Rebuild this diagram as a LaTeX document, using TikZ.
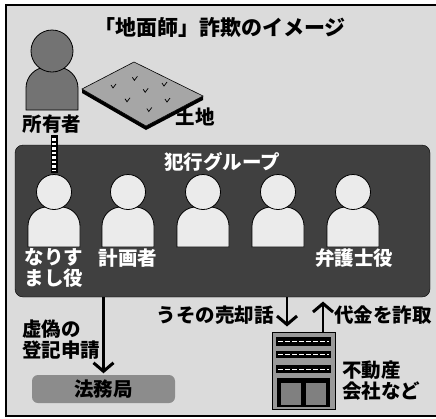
\documentclass[tikz,border=0pt]{standalone}
\usepackage{fontspec}
\newfontfamily\jp{Noto Sans CJK JP}
\usetikzlibrary{calc}
\begin{document}
\begin{tikzpicture}[x=1pt,y=-1pt,
  lbl/.style={font=\jp\bfseries\fontsize{19.5}{22}\selectfont, inner sep=0pt, text=black},
  twoline/.style={font=\jp\bfseries\fontsize{19.5}{21}\selectfont},
  wlbl/.style={lbl, text=white},
  member/.pic={
    \draw[fill=black!8, draw=black, line width=0.8pt]
      (-26,27) [rounded corners=19pt] -- (-26,-13) -- (26,-13) [sharp corners] -- (26,27) -- cycle;
    \draw[fill=black!8, draw=black, line width=0.8pt] (0,-28) circle[radius=17.5pt];
  },
  % open chevron head, tip at the origin, pointing down
  chev/.pic={
    \draw[line width=3pt, line join=miter, line cap=butt] (-10,-10) -- (0,-1.5) -- (10,-10);
  },
  shaft/.style={line width=2.6pt},
  tuft/.style={line width=0.7pt},
]
\useasboundingbox (0,0) rectangle (436,418);
\fill[white] (0,0) rectangle (436,418);
\fill[black!14] (6,5) rectangle (436,416);
\draw[line width=1.8pt] (436,5) -- (6,5) -- (6,416) -- (436,416);

% title
\node[lbl, font=\jp\bfseries\fontsize{21}{24}\selectfont] (title) at (220,28) {「地面師」詐欺のイメージ};

% owner
\draw[fill=black!55, line width=0.8pt]
  (26,110) [rounded corners=21pt] -- (26,67) -- (78,67) [sharp corners] -- (78,110) -- cycle;
\draw[fill=black!55, line width=0.8pt] (52,51) circle[radius=21pt];
\node[lbl] (owner) at (52,124) {所有者};

% plot of land
\fill[black] (82,89) -- (146,126) -- (203,96) -- (203,100) -- (146,130) -- (82,93) -- cycle;
\draw[fill=black!35, line width=0.6pt] (82,89) -- (134,62) -- (203,96) -- (146,126) -- cycle;
\foreach \u/\v in {0.35/0.2, 0.7/0.25, 0.25/0.5, 0.6/0.5, 0.9/0.55, 0.3/0.8, 0.65/0.8}
  \draw[tuft] ($(82,89)+\u*(52,-27)+\v*(64,37)$) ++(-2,-2) -- ++(2,3) -- ++(3,-4);
\node[lbl] (land) at (195,117) {土地};

% criminal group
\node[draw=black, fill=black!75, rounded corners=8pt, minimum width=415pt,
      minimum height=152pt, inner sep=0pt] (grp) at (222.5,221) {};
\node[wlbl] (grptitle) at (222,162) {犯行グループ};
\foreach \x [count=\i] in {54,128,203,278,353}
  \pic (m\i) at (\x,220) {member};

% owner to impersonator
\draw[line width=7pt] (54,135) -- (54,173);
\draw[white, line width=3.5pt, dash pattern=on 2.5pt off 2pt] (54,138) -- (54,171);

\node[wlbl, align=center, twoline] (imp) at (54,268) {なりす\\まし役};
\node[wlbl] (planner) at (128,258) {計画者};
\node[wlbl] (lawyer) at (354,258) {弁護士役};

% legal affairs bureau
\node[lbl, fill=black!45, rounded corners=6pt, minimum width=143pt, minimum height=28pt] (hom) at (103.5,389) {法務局};
\coordinate (homtip) at ([yshift=2pt]hom.north);
\draw[shaft] (hom.north |- grp.south) -- ([yshift=3pt]homtip);
\pic at (homtip) {chev};
\node[lbl, align=left, anchor=west, twoline] (kyogi) at (22,340) {虚偽の\\登記申請};

% real estate company
\node[draw=black, fill=black!40, line width=1pt, minimum width=63pt, minimum height=77pt, inner sep=0pt] (bld) at (303.5,370.5) {};
\foreach \ya/\yb in {337/346, 351/358, 365/373} {
  \fill[black] (276,\ya) rectangle (331,\yb);
  \draw[white, line width=0.8pt, dash pattern=on 5pt off 2pt] (278,{(\ya+\yb)/2}) -- (329,{(\ya+\yb)/2});
}
\fill[black] (277,378) rectangle (330,407);
\fill[black!50] (281,383) rectangle (301,405);
\fill[black!50] (306,383) rectangle (326,405);
\node[lbl, align=left, anchor=west, twoline] (company) at (342,381) {不動産\\会社など};

% false sale story: group -> company
\coordinate (saletip) at (287,326);
\draw[shaft] (saletip |- grp.south) -- ([yshift=3pt]saletip);
\pic at (saletip) {chev};
\node[lbl, anchor=east] (sale) at (274,315) {うその売却話};

% payment swindled: company -> group
\coordinate (paytip) at (323,302);
\draw[shaft] (bld.north -| paytip) -- ([yshift=-3pt]paytip);
\pic[rotate=180] at (paytip) {chev};
\node[lbl, anchor=west] (pay) at (334,315) {代金を詐取};
\end{tikzpicture}
\end{document}
